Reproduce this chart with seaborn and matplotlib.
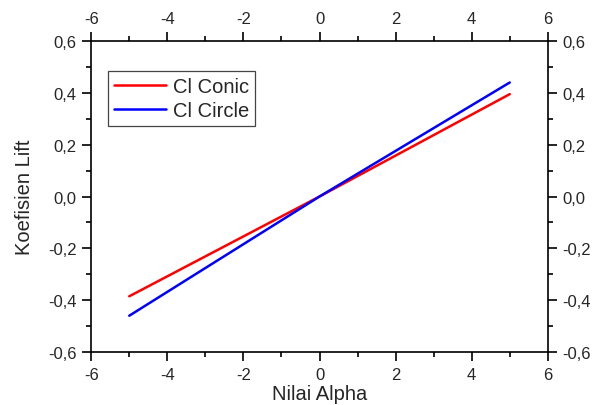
import matplotlib
matplotlib.use("Agg")
import matplotlib.pyplot as plt
import matplotlib.ticker as mticker
import seaborn as sns
import pandas as pd

alpha = [-5, 0, 5]
cl_conic = [-0.385, 0.0, 0.395]
cl_circle = [-0.46, 0.0, 0.44]
series_names = ["Cl Conic", "Cl Circle"]
colors = {"Cl Conic": "#ff0000", "Cl Circle": "#0000ff"}

df = pd.DataFrame({
    "alpha": alpha * 2,
    "cl": cl_conic + cl_circle,
    "series": [series_names[0]] * len(alpha) + [series_names[1]] * len(alpha),
})

sns.set_style("ticks")
plt.rcParams['font.family'] = ['Liberation Sans', 'DejaVu Sans']

fig = plt.figure(figsize=(6, 4.06), dpi=100)
ax = fig.add_axes([0.152, 0.1305, 0.761, 0.766])
sns.lineplot(data=df, x="alpha", y="cl", hue="series", palette=colors,
             ax=ax, linewidth=1.8, legend=True)

ax.set_xlim(-6, 6)
ax.set_ylim(-0.6, 0.6)
ax.xaxis.set_major_locator(mticker.MultipleLocator(2))
ax.xaxis.set_minor_locator(mticker.MultipleLocator(1))
ax.yaxis.set_major_locator(mticker.MultipleLocator(0.2))
ax.yaxis.set_minor_locator(mticker.MultipleLocator(0.1))
fmt = mticker.FuncFormatter(lambda v, p: f"{v:.1f}".replace(".", ",").replace("-0,0", "0,0"))
ax.yaxis.set_major_formatter(fmt)
ax.xaxis.set_major_formatter(mticker.FuncFormatter(lambda v, p: "0" if abs(v) < 1e-9 else f"{v:.0f}"))

for s in ax.spines.values():
    s.set_visible(True)
    s.set_linewidth(1.2)
    s.set_color("black")
ax.tick_params(which="both", direction="out", top=True, right=True,
               labeltop=True, labelright=True, labelsize=12, color="black", width=1.2)
ax.tick_params(which="major", length=6.5, pad=4)
ax.tick_params(which="minor", length=3.5)

ax.set_xlabel("Nilai Alpha", fontsize=14.5, labelpad=1.5)
ax.set_ylabel("Koefisien Lift", fontsize=14.5, labelpad=10)

leg = ax.legend(loc="upper left", bbox_to_anchor=(0.036, 0.905), fontsize=14.5,
                frameon=True, fancybox=False, edgecolor="#444444", framealpha=1,
                handlelength=2.6, handletextpad=0.35, borderpad=0.3,
                labelspacing=0.25, borderaxespad=0)
leg.get_frame().set_linewidth(0.9)

fig.savefig("out.png", dpi=100)
